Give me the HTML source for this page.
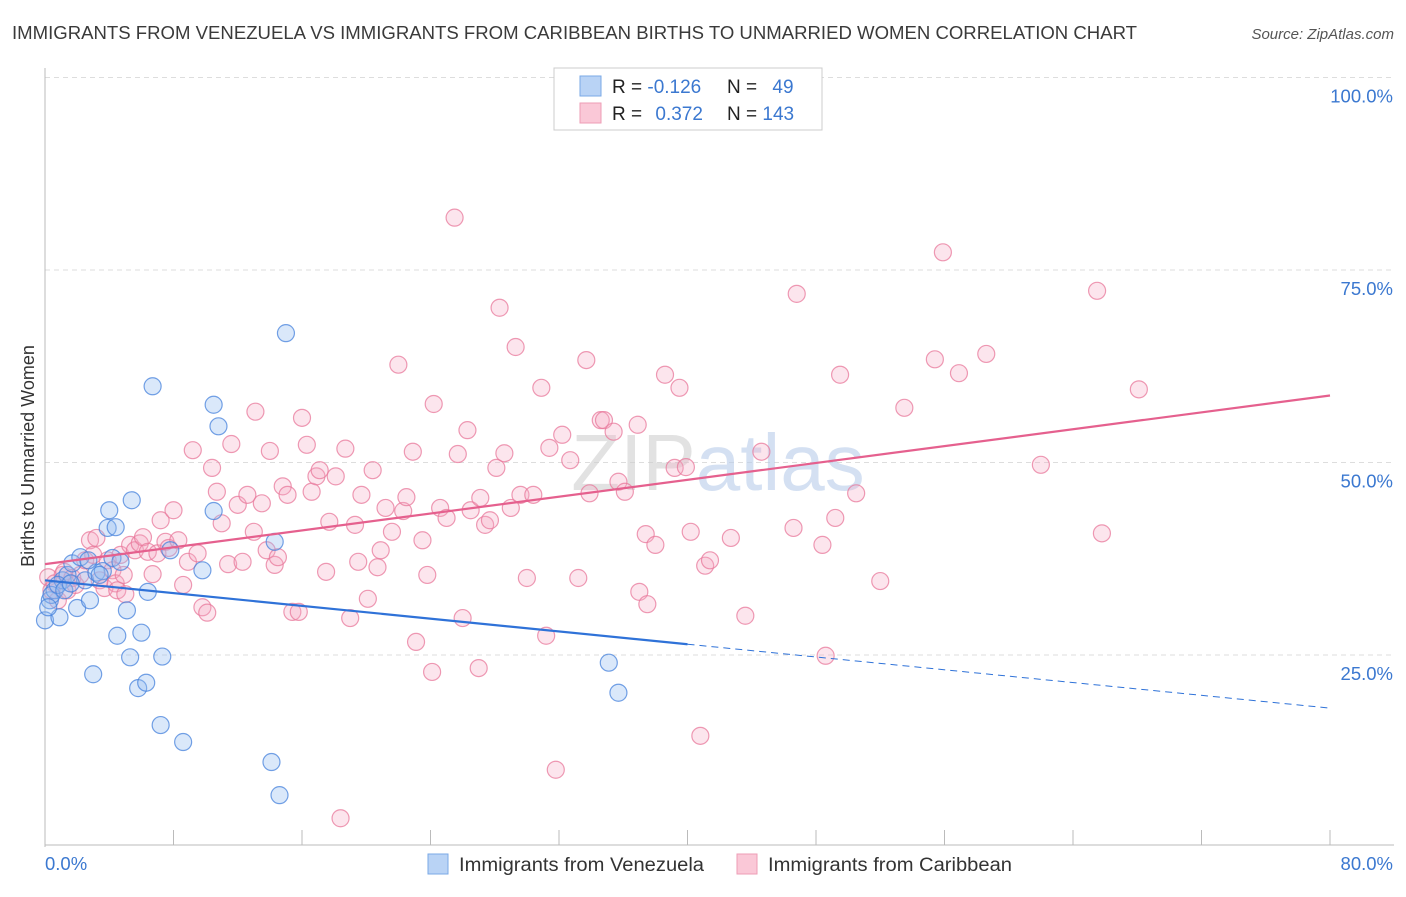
<!DOCTYPE html>
<html><head><meta charset="utf-8"><style>
body{margin:0;background:#fff;font-family:"Liberation Sans",sans-serif}
svg text{font-family:"Liberation Sans",sans-serif}
</style></head><body>
<svg id="chart" width="1406" height="892" xmlns="http://www.w3.org/2000/svg">
<text x="12" y="39" font-size="18" fill="#3a3a3a" textLength="1125" lengthAdjust="spacingAndGlyphs">IMMIGRANTS FROM VENEZUELA VS IMMIGRANTS FROM CARIBBEAN BIRTHS TO UNMARRIED WOMEN CORRELATION CHART</text>
<text x="1394" y="39" font-size="15" font-style="italic" fill="#555" text-anchor="end">Source: ZipAtlas.com</text>
<text x="34" y="456" font-size="18" fill="#333" text-anchor="middle" transform="rotate(-90 34 456)">Births to Unmarried Women</text>
<g id="grid"></g>
<g id="axes"></g>
<text x="718" y="490" font-size="80" fill="#d8d8d8" text-anchor="middle" opacity="0.6"><tspan fill="#cfcfcf">ZIP</tspan><tspan fill="#b9cdea">atlas</tspan></text>
<g id="pts"></g>
<g id="trends"></g>
<g>
<rect x="554" y="68" width="268" height="62" fill="#fff" stroke="#ccc"/>
<rect x="580" y="76" width="21" height="20" fill="#b9d3f5" stroke="#7aa8e6"/>
<rect x="580" y="103" width="21" height="20" fill="#fac8d7" stroke="#ee9db6"/>
<text x="612" y="93" font-size="19" fill="#222">R = <tspan fill="#3b78d0">-0.126</tspan></text>
<text x="727" y="93" font-size="19" fill="#222">N = <tspan fill="#3b78d0" dx="10">49</tspan></text>
<text x="612" y="120" font-size="19" fill="#222">R = <tspan fill="#3b78d0" dx="8">0.372</tspan></text>
<text x="727" y="120" font-size="19" fill="#222">N = <tspan fill="#3b78d0">143</tspan></text>
</g>
<g>
<rect x="428" y="854" width="20" height="20" fill="#b9d3f5" stroke="#7aa8e6"/>
<text x="459" y="871" font-size="19" fill="#333" textLength="245" lengthAdjust="spacingAndGlyphs">Immigrants from Venezuela</text>
<rect x="737" y="854" width="20" height="20" fill="#fac8d7" stroke="#ee9db6"/>
<text x="768" y="871" font-size="19" fill="#333" textLength="244" lengthAdjust="spacingAndGlyphs">Immigrants from Caribbean</text>
</g>
</svg>
<script>
const blueX=[0.0,0.3,0.6,0.9,1.1,1.4,1.7,2.0,2.2,2.5,2.8,3.0,3.2,3.6,3.9,4.0,4.2,4.4,4.5,4.7,5.1,5.3,5.4,5.8,6.0,6.3,6.4,6.7,7.2,7.3,7.8,8.6,9.8,10.5,10.5,10.8,14.1,14.3,14.6,15.0,35.1,35.7,0.4,0.8,1.2,1.6,2.7,3.4,0.2];
const blueY=[29.5,32.1,33.4,29.9,34.7,35.4,36.9,31.1,37.7,34.7,32.1,22.5,35.7,35.9,41.5,43.8,37.6,41.6,27.5,37.1,30.8,24.7,45.1,20.7,27.9,21.4,33.2,59.9,15.9,24.8,38.6,13.7,36.0,43.7,57.5,54.7,11.1,39.7,6.8,66.8,24.0,20.1,32.8,34.1,33.4,34.3,37.3,35.4,31.2];
const pinkX=[0.2,0.4,0.6,0.8,1.1,1.2,1.4,1.7,1.9,2.2,2.5,2.8,3.0,3.2,3.4,3.7,3.9,4.2,4.4,4.5,4.7,4.9,5.0,5.3,5.6,5.9,6.1,6.4,6.7,7.0,7.2,7.5,7.7,8.0,8.3,8.6,8.9,9.2,9.5,9.8,10.1,10.4,10.7,11.0,11.4,11.6,12.0,12.3,12.6,13.0,13.1,13.5,13.8,14.0,14.3,14.5,14.8,15.1,15.4,15.8,16.0,16.3,16.6,16.9,17.1,17.5,17.7,18.1,18.4,18.7,19.0,19.3,19.5,19.7,20.1,20.4,20.7,20.9,21.2,21.6,22.0,22.3,22.5,22.9,23.1,23.5,23.8,24.1,24.2,24.6,25.0,25.5,25.7,26.0,26.3,26.5,27.0,27.1,27.4,27.7,28.1,28.3,28.6,29.0,29.3,29.6,30.0,30.4,30.9,31.2,31.4,31.8,32.2,32.7,33.2,33.7,33.9,34.6,34.8,35.4,35.7,36.1,36.9,37.0,37.4,37.5,38.0,38.6,39.2,39.5,39.9,40.2,40.8,41.1,41.4,42.7,43.6,44.6,46.6,46.8,48.4,48.6,49.2,49.5,50.5,52.0,53.5,55.4,55.9,56.9,58.6,62.0,65.5,65.8,68.1];
const pinkY=[35.1,33.4,34.3,32.1,35.4,35.8,33.4,35.0,34.1,35.4,37.3,39.9,38.0,40.2,34.7,33.7,37.3,36.0,34.3,33.4,38.0,35.4,32.9,39.3,38.6,39.5,40.3,38.4,35.5,38.2,42.5,39.7,38.9,43.8,39.9,34.1,37.1,51.6,38.2,31.2,30.5,49.3,46.2,42.1,36.8,52.4,44.5,37.1,45.8,41.0,56.6,44.7,38.6,51.5,36.7,37.7,46.9,45.8,30.6,30.6,55.8,52.3,46.2,48.2,49.0,35.8,42.3,48.2,3.8,51.8,29.8,41.9,37.1,45.8,32.3,49.0,36.4,38.6,44.1,41.0,62.7,43.7,45.5,51.4,26.7,39.9,35.4,22.8,57.6,44.1,42.8,81.8,51.1,29.8,54.2,43.8,23.3,45.4,41.9,42.5,49.3,70.1,51.2,44.1,65.0,45.8,35.0,45.8,59.7,27.5,51.9,10.1,53.6,50.3,35.0,63.3,46.0,55.5,55.5,54.0,47.5,46.2,54.9,33.2,40.7,31.6,39.3,61.4,49.3,59.7,49.4,41.0,14.5,36.6,37.3,40.2,30.1,51.4,41.5,71.9,39.3,24.9,42.8,61.4,46.0,34.6,57.1,63.4,77.3,61.6,64.1,49.7,72.3,40.8,59.5];
const blueTrend=[34.7,18.1];
const pinkTrend=[36.8,58.7];
const yTicks=[25,50,75,100];
const yTickLabels=["25.0%","50.0%","75.0%","100.0%"];
const xTicks=[0,8,16,24,32,40,48,56,64,72,80];

const NS="http://www.w3.org/2000/svg";
const X=v=>45+v*(1285/80);
const Y=v=>847.5-v*7.7;
function mk(tag,attrs,parent){const e=document.createElementNS(NS,tag);for(const k in attrs)e.setAttribute(k,attrs[k]);parent.appendChild(e);return e;}
const grid=document.getElementById('grid'),axes=document.getElementById('axes'),pts=document.getElementById('pts'),tr=document.getElementById('trends');
yTicks.forEach((t,i)=>{
  const l=mk('line',{x1:45,x2:1394,y1:Y(t),y2:Y(t),stroke:'#ddd','stroke-dasharray':'5,4'},grid);
  
  
  const tx=mk('text',{x:1393,y:Y(t)+25,'font-size':18.5,fill:'#3b78d0','text-anchor':'end'},axes);
  tx.textContent=yTickLabels[i];
  
  
});
const ya=mk('line',{x1:45,x2:45,y1:68,y2:847,stroke:'#bbb'},axes);


const xa=mk('line',{x1:45,x2:1394,y1:845,y2:845,stroke:'#bbb'},axes);


xTicks.forEach(t=>{
  const l=mk('line',{x1:X(t),x2:X(t),y1:830,y2:845,stroke:'#bbb'},axes);
  
  
});
const x0=mk('text',{x:45,y:870,'font-size':18.5,fill:'#3b78d0'},axes);x0.textContent='0.0%';


const x1=mk('text',{x:1393,y:870,'font-size':18.5,fill:'#3b78d0','text-anchor':'end'},axes);x1.textContent='80.0%';


pinkX.forEach((v,i)=>{
  const c=mk('circle',{cx:X(v),cy:Y(pinkY[i]),r:8.5,fill:'rgba(246,170,195,0.3)',stroke:'rgba(232,120,155,0.75)','stroke-width':1.2},pts);
  
  
});
blueX.forEach((v,i)=>{
  const c=mk('circle',{cx:X(v),cy:Y(blueY[i]),r:8.5,fill:'rgba(150,190,240,0.35)',stroke:'rgba(70,130,220,0.75)','stroke-width':1.2},pts);
  
  
});
const bm=blueTrend[0]+(blueTrend[1]-blueTrend[0])*0.5;
const b1=mk('line',{x1:X(0),y1:Y(blueTrend[0]),x2:X(40),y2:Y(bm),stroke:'#2f72d8','stroke-width':2.2},tr);


const b2=mk('line',{x1:X(40),y1:Y(bm),x2:X(80),y2:Y(blueTrend[1]),stroke:'#2f72d8','stroke-width':1,'stroke-dasharray':'7,5'},tr);


const p1=mk('line',{x1:X(0),y1:Y(pinkTrend[0]),x2:X(80),y2:Y(pinkTrend[1]),stroke:'#e5608e','stroke-width':2.2},tr);


</script>
</body></html>
